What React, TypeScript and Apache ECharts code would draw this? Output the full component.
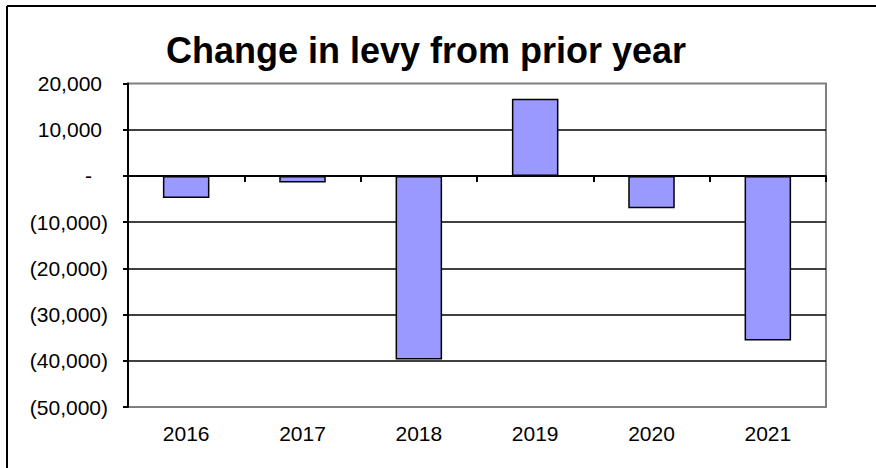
import React, { useEffect, useRef } from "react";
import * as echarts from "echarts";

const TITLE = "Change in levy from prior year";
const categories = ["2016", "2017", "2018", "2019", "2020", "2021"];
const levyChange = [-4800, -1400, -39700, 16700, -7000, -35600];
const yMin = -50000;
const yMax = 20000;
const yStep = 10000;

const FONT = "Arial, 'Liberation Sans', sans-serif";

function fmt(v: number): string {
  if (v === 0) return "{z|-}";
  const s = Math.abs(v).toLocaleString("en-US");
  if (v > 0) return `{p|${s}}`;
  return `{n|(${s})}`;
}

export default function App() {
  const ref = useRef<HTMLDivElement>(null);
  useEffect(() => {
    if (!ref.current) return;
    const chart = echarts.init(ref.current, null, { renderer: "svg" });
    const labelBase = { fontSize: 21, fontFamily: FONT, color: "#000" };
    chart.setOption({
      animation: false,
      backgroundColor: "#fff",
      graphic: [
        {
          type: "line",
          shape: { x1: 7, y1: 6, x2: 876, y2: 6 },
          style: { stroke: "#000", lineWidth: 2 },
        },
        {
          type: "line",
          shape: { x1: 7, y1: 6, x2: 7, y2: 468 },
          style: { stroke: "#000", lineWidth: 2 },
        },
        {
          type: "text",
          x: 426,
          y: 50,
          style: {
            text: TITLE,
            font: `bold 36px ${FONT}`,
            fill: "#000",
            align: "center",
            verticalAlign: "middle",
          },
        },
      ],
      grid: {
        left: 128,
        top: 83.5,
        right: 50,
        bottom: 61,
        show: true,
        borderColor: "#808080",
        borderWidth: 2,
        backgroundColor: "transparent",
        containLabel: false,
      },
      xAxis: [
        {
          type: "category",
          data: categories,
          position: "bottom",
          axisLine: { show: false, onZero: false },
          axisTick: { show: false },
          axisLabel: { ...labelBase, margin: 16 },
          splitLine: { show: false },
        },
        {
          type: "category",
          data: categories,
          position: "bottom",
          axisLine: { show: true, onZero: true, lineStyle: { color: "#000", width: 2 } },
          axisTick: { show: true, length: 6, lineStyle: { color: "#000", width: 2 } },
          axisLabel: { show: false },
          splitLine: { show: false },
        },
      ],
      yAxis: {
        type: "value",
        min: yMin,
        max: yMax,
        interval: yStep,
        axisLine: { show: true, lineStyle: { color: "#000", width: 2 } },
        axisTick: { show: true, length: 5, lineStyle: { color: "#000", width: 2 } },
        axisLabel: {
          ...labelBase,
          margin: 20,
          formatter: (v: number) => fmt(v),
          rich: {
            p: { ...labelBase, padding: [0, 6, 0, 0] },
            n: { ...labelBase },
            z: { ...labelBase, padding: [0, 16, 0, 0] },
          },
        },
        splitLine: {
          show: true,
          showMinLine: false,
          showMaxLine: false,
          lineStyle: { color: "#000", width: 1.5 },
        },
      },
      series: [
        {
          type: "bar",
          xAxisIndex: 0,
          data: levyChange,
          barWidth: "40%",
          itemStyle: { color: "#9999FF", borderColor: "#000", borderWidth: 1.5 },
        },
      ],
    });
    return () => chart.dispose();
  }, []);
  return (
    <div
      ref={ref}
      style={{ position: "fixed", left: 0, top: 0, width: 876, height: 468, background: "#fff" }}
    />
  );
}
